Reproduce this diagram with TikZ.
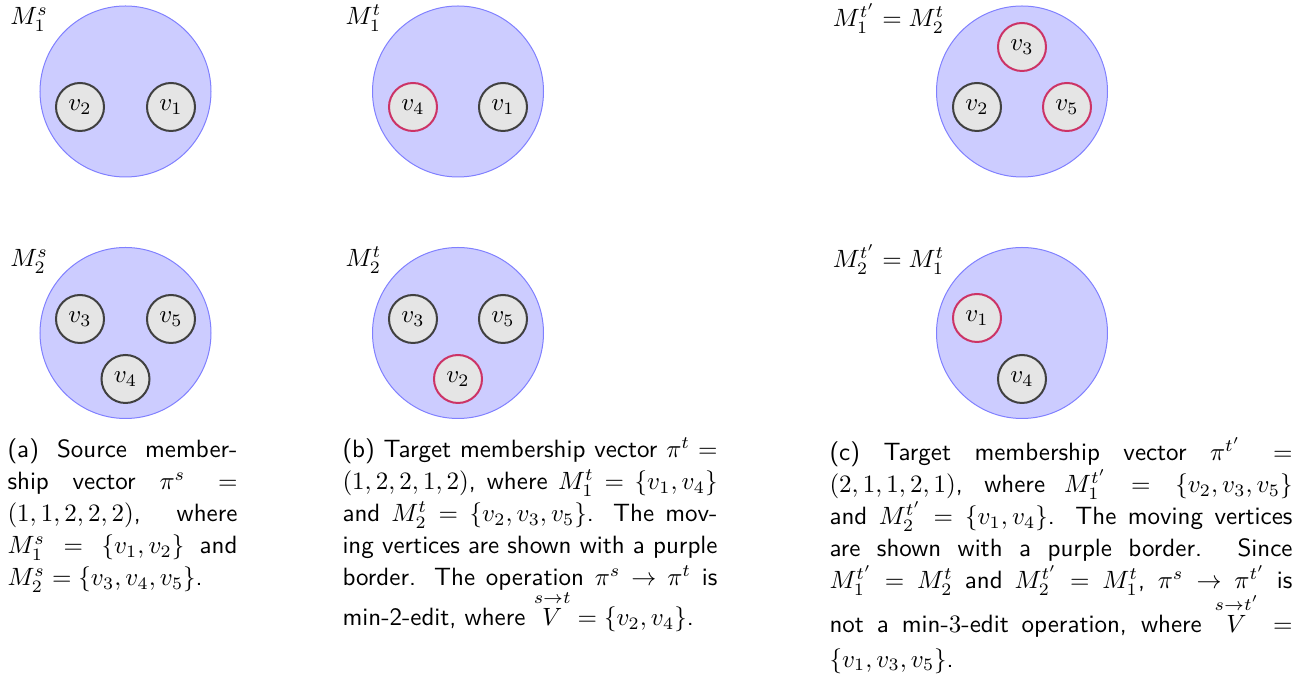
\documentclass[tikz,border=0pt]{standalone}
\usepackage{amsmath}
\newcommand{\stackV}[1]{\smash{\overset{#1}{V}}}
\begin{document}
\begin{tikzpicture}[x=0.4pt,y=-0.4pt,
  set/.style={circle,minimum size=68.4pt,inner sep=0pt,fill=blue!20,draw=blue!50,line width=0.4pt},
  vert/.style={circle,minimum size=19.2pt,inner sep=0pt,fill=black!10,draw=black!75,line width=0.8pt,font=\fontsize{10}{12}\selectfont},
  moved/.style={vert,draw=purple!80},
  lab/.style={inner sep=0pt,anchor=base east,font=\fontsize{10}{12}\selectfont},
  captext/.style={inner sep=0pt,anchor=base west,align=justify,font=\sffamily\fontsize{10}{12.8}\selectfont}]
\useasboundingbox (0,0) rectangle (1316,678);
% (a)
\node[set] (sa1) at (125.5,91.5) {};
\node[lab] (la1) at (48.5,25) {$M_1^s$};
\node[vert] (a1v2) at (80,107) {$v_2$};
\node[vert] (a1v1) at (171,107) {$v_1$};
\node[set] (sa2) at (125.5,333) {};
\node[lab] (la2) at (48.5,267) {$M_2^s$};
\node[vert] (a2v3) at (80,319) {$v_3$};
\node[vert] (a2v5) at (171,319) {$v_5$};
\node[vert] (a2v4) at (125.5,379) {$v_4$};
% (b)
\node[set] (sb1) at (458,91.5) {};
\node[lab] (lb1) at (382,25) {$M_1^t$};
\node[moved] (b1v4) at (413,107) {$v_4$};
\node[vert] (b1v1) at (503,107) {$v_1$};
\node[set] (sb2) at (458,333) {};
\node[lab] (lb2) at (382,267) {$M_2^t$};
\node[vert] (b2v3) at (413,319) {$v_3$};
\node[vert] (b2v5) at (503,319) {$v_5$};
\node[moved] (b2v2) at (458,379) {$v_2$};
% (c)
\node[set] (sc1) at (1022,91.5) {};
\node[lab] (lc1) at (945,27) {$M_1^{t'} = M_2^t$};
\node[moved] (c1v3) at (1022,47) {$v_3$};
\node[vert] (c1v2) at (977,107) {$v_2$};
\node[moved] (c1v5) at (1067,107) {$v_5$};
\node[set] (sc2) at (1022,333) {};
\node[lab] (lc2) at (945,268) {$M_2^{t'} = M_1^t$};
\node[moved] (c2v1) at (977,318) {$v_1$};
\node[vert] (c2v4) at (1022,379) {$v_4$};
% captions
\node[captext,text width=92pt] (capa) at (7,458) {(a) Source member-\linebreak ship vector $\pi^s =$\linebreak $(1,1,2,2,2)$, where\linebreak $M_1^s = \{v_1,v_2\}$ and\linebreak $M_2^s = \{v_3,v_4,v_5\}$.};
\node[captext,text width=150pt] (capb) at (342,458) {(b) Target membership vector $\pi^t =$\linebreak $(1,2,2,1,2)$, where $M_1^t = \{v_1,v_4\}$\linebreak and $M_2^t = \{v_2,v_3,v_5\}$. The mov-\linebreak ing vertices are shown with a purple\linebreak border. The operation $\pi^s \rightarrow \pi^t$ is\linebreak \rule{0pt}{13pt}min-2-edit, where $\stackV{s\rightarrow t} = \{v_2,v_4\}$.};
\node[captext,text width=185.2pt] (capc) at (829,461) {(c) Target membership vector $\pi^{t'} =$\linebreak $(2,1,1,2,1)$, where $M_1^{t'} = \{v_2,v_3,v_5\}$\linebreak and $M_2^{t'} = \{v_1,v_4\}$. The moving vertices\linebreak are shown with a purple border. Since\linebreak $M_1^{t'} = M_2^t$ and $M_2^{t'} = M_1^t$, $\pi^s \rightarrow \pi^{t'}$ is\linebreak \rule{0pt}{13.8pt}not a min-$3$-edit operation, where $\stackV{s\rightarrow t'} =$\linebreak \rule{0pt}{11pt}$\{v_1,v_3,v_5\}$.};
\end{tikzpicture}
\end{document}
